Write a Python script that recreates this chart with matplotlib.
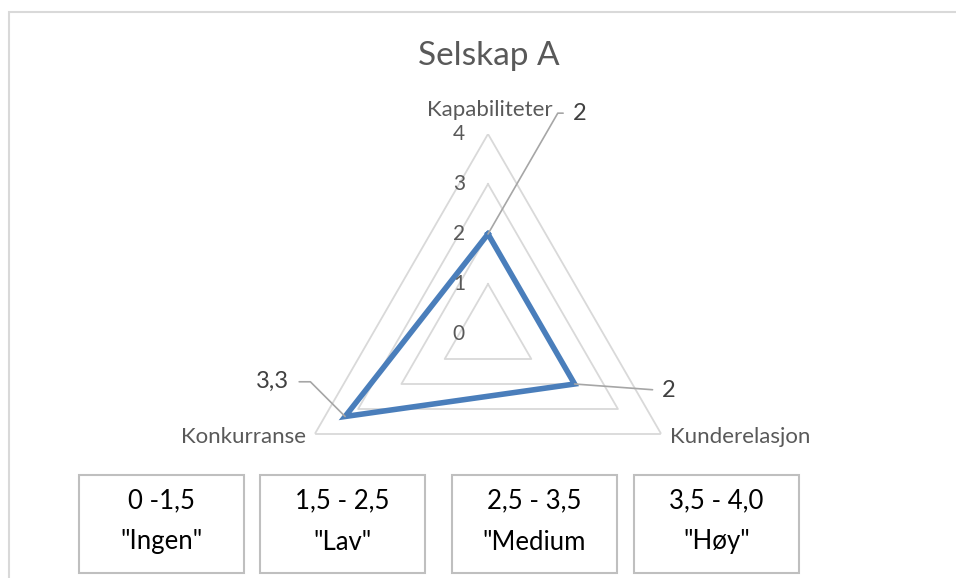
import numpy as np
import matplotlib.pyplot as plt
from matplotlib.patches import Rectangle

categories = ['Kapabiliteter', 'Kunderelasjon', 'Konkurranse']
values = [2, 2, 3.3]
value_labels = ['2', '2', '3,3']
levels = [1, 2, 3, 4]
tick_labels = ['0', '1', '2', '3', '4']
box_lines = [('0 -1,5', '"Ingen"'), ('1,5 - 2,5', '"Lav"'),
             ('2,5 - 3,5', '"Medium'), ('3,5 - 4,0', '"Høy"')]

W, H = 956, 578
plt.rcParams['font.family'] = ['Lato', 'DejaVu Sans']
fig = plt.figure(figsize=(W / 100, H / 100), dpi=100)

# chart frame (only top and left edges visible in the crop)
fig.patches.append(Rectangle((9 / W, -0.1), 1.2, 1.1 - 12 / H, transform=fig.transFigure,
                             fill=False, edgecolor='#d9d9d9', linewidth=1.5))

cx, cy, R = 488, 334, 200
ax = fig.add_axes([(cx - R) / W, (H - cy - R) / H, 2 * R / W, 2 * R / H], projection='polar')
ax.set_theta_offset(np.pi / 2)
ax.set_theta_direction(-1)
ax.set_ylim(0, 4)
ax.grid(False)
ax.set_xticks([])
ax.set_yticks([])
ax.spines['polar'].set_visible(False)
ax.patch.set_visible(False)

theta = np.linspace(0, 2 * np.pi, len(categories), endpoint=False)
closed = np.append(theta, theta[0])

for lv in levels:
    ax.plot(closed, [lv] * len(closed), color='#d9d9d9', lw=1.3, zorder=1)

ax.plot(closed, values + values[:1], color='#4a7ebb', lw=4, zorder=3,
        solid_joinstyle='miter')

# radial tick labels
for i, t in enumerate(tick_labels):
    ax.annotate(t, xy=(0, i), xytext=(-21, 0), textcoords='offset points',
                ha='center', va='center', fontsize=15, color='#595959')

# category labels
ax.annotate(categories[0], xy=(theta[0], 4), xytext=(1, 17), textcoords='offset points',
            ha='center', va='center', fontsize=16, color='#595959')
ax.annotate(categories[1], xy=(theta[1], 4), xytext=(6, -2), textcoords='offset points',
            ha='left', va='center', fontsize=16, color='#595959')
ax.annotate(categories[2], xy=(theta[2], 4), xytext=(-6, -2), textcoords='offset points',
            ha='right', va='center', fontsize=16, color='#595959')

# data labels with leader lines
lab_off = [(66, 87), (68, -5), (-52, 25)]
lab_conn = ['angle,angleA=0,angleB=60,rad=0', 'arc3,rad=0', 'angle,angleA=0,angleB=135,rad=0']
for th, v, s, off, cs in zip(theta, values, value_labels, lab_off, lab_conn):
    ax.annotate(s, xy=(th, v), xytext=off, textcoords='offset points',
                ha='center', va='center', fontsize=17, color='#404040',
                arrowprops=dict(arrowstyle='-', color='#a6a6a6', lw=1.2,
                                connectionstyle=cs, shrinkA=5, shrinkB=0))

fig.text(489 / W, 1 - 56 / H, 'Selskap A', ha='center', va='center',
         fontsize=24, color='#595959')

# legend boxes
box_x = [79, 260, 452, 634]
box_w, box_top, box_bot = 165, 475, 573
for x0, (l1, l2) in zip(box_x, box_lines):
    fig.patches.append(Rectangle((x0 / W, 1 - box_bot / H), box_w / W, (box_bot - box_top) / H,
                                 transform=fig.transFigure, fill=False,
                                 edgecolor='#bfbfbf', linewidth=1.5))
    xc = (x0 + box_w / 2) / W
    fig.text(xc, 1 - 501 / H, l1, ha='center', va='center', fontsize=18.5, color='black')
    fig.text(xc, 1 - 542 / H, l2, ha='center', va='center', fontsize=18.5, color='black')

fig.savefig('out.png', dpi=100, facecolor='white')
